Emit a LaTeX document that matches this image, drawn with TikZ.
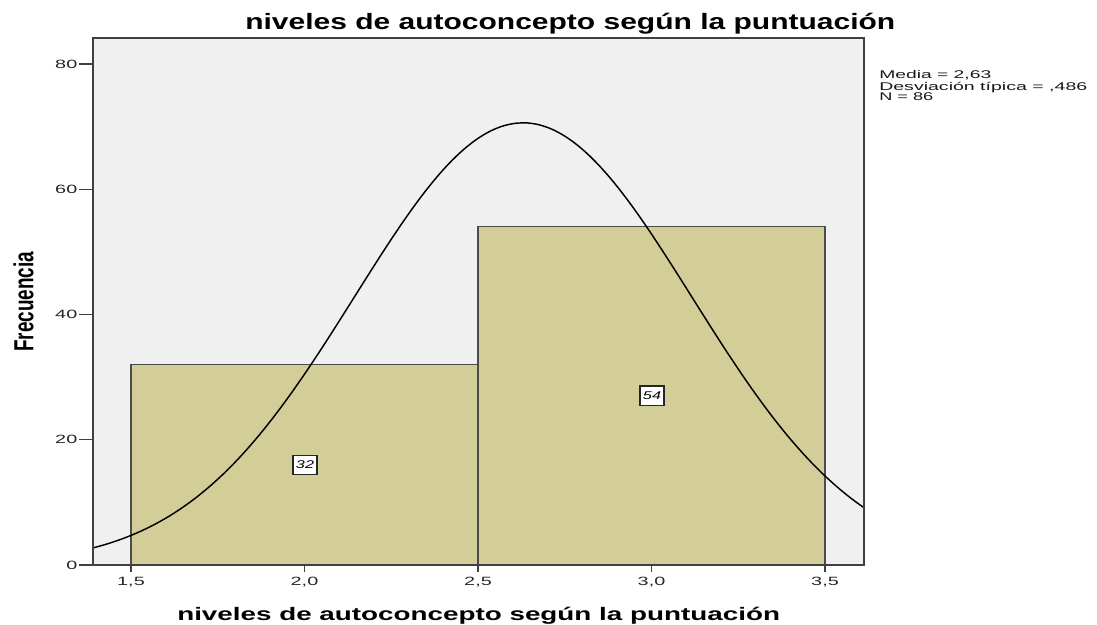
\documentclass[tikz,border=0pt]{standalone}
\usepackage{fontspec}
\usepackage{graphicx}
\setmainfont{Liberation Sans}
\begin{document}
\begin{tikzpicture}[x=0.75pt,y=-0.75pt,
  axisline/.style={draw=black!75,line width=1.1pt},
  barbox/.style={fill=barfill,draw=black!70,line width=1pt},
  tickmark/.style={draw=black!75,line width=1pt},
  ticklab/.style={font=\fontsize{9}{10}\selectfont,text=black!85,inner sep=0pt},
  countbox/.style={fill=white,draw=black!85,line width=1pt,inner sep=0pt,font=\fontsize{8.4}{9}\selectfont\itshape,minimum width=18pt,minimum height=14.5pt},
  statlab/.style={anchor=base west,inner sep=0pt,font=\fontsize{8.4}{9}\selectfont,text=black!90}
]
\definecolor{barfill}{RGB}{211,206,152}
\definecolor{plotbg}{RGB}{240,240,240}
\useasboundingbox (0,0) rectangle (1097,625);
% plot background
\fill[plotbg] (93,38) rectangle (864,565);
% bars
\draw[barbox] (131,565) rectangle (478,364.6);
\draw[barbox] (478,565) rectangle (825,226.8);
% normal curve
\draw[black,line width=1.1pt] plot[domain=1.39:3.612,samples=150,smooth]
  ({131+(\x-1.5)*347},{565-6.2625*70.59*exp(-((\x-2.63)^2)/(2*0.486*0.486))});
% frame
\draw[axisline] (93,565) -- (93,38) -- (864,38) -- (864,565) -- cycle;
% y ticks
\foreach \v/\t in {0/0,20/20,40/40,60/60,80/80}{
  \coordinate (yt\v) at (93,{565-6.2625*\v});
  \draw[tickmark] (yt\v) -- ++(-14,0);
  \node[ticklab,anchor=east] (ytl\v) at ([xshift=-11.6pt]yt\v) {\scalebox{1.65}[1]{\t}};
}
% x ticks
\foreach \i/\v/\t in {1/1.5/{1,5},2/2.0/{2,0},3/2.5/{2,5},4/3.0/{3,0},5/3.5/{3,5}}{
  \coordinate (xt\i) at ({131+(\v-1.5)*347},565);
  \draw[tickmark] (xt\i) -- ++(0,7);
  \node[ticklab,anchor=north] (xtl\i) at ([yshift=-9pt]xt\i) {\scalebox{1.65}[1]{\t}};
}
% count labels
\node[countbox] (c32) at (305,465) {\scalebox{1.45}[1]{32}};
\node[countbox] (c54) at (652,395.5) {\scalebox{1.45}[1]{54}};
% titles
\node[anchor=base west,inner sep=0pt] (title) at (245,29)
  {\resizebox{487.5pt}{\height}{\fontsize{16.7}{18}\selectfont\bfseries niveles de autoconcepto según la puntuación}};
\node[anchor=base west,inner sep=0pt] (xlab) at (177,620)
  {\resizebox{452pt}{\height}{\fontsize{13.6}{15}\selectfont\bfseries niveles de autoconcepto según la puntuación}};
\node[anchor=base,inner sep=0pt,rotate=90] (ylab) at (33.3,301.7)
  {\resizebox{75pt}{15pt}{\fontsize{14}{16}\selectfont\bfseries Frecuencia}};
% stats
\node[statlab] (st1) at (879,78.3) {\resizebox{84pt}{\height}{Media = 2,63}};
\node[statlab] (st2) at (879,90) {\resizebox{156pt}{\height}{Desviación típica = ,486}};
\node[statlab] (st3) at (879,100.7) {\resizebox{40.5pt}{\height}{N = 86}};
\end{tikzpicture}
\end{document}
